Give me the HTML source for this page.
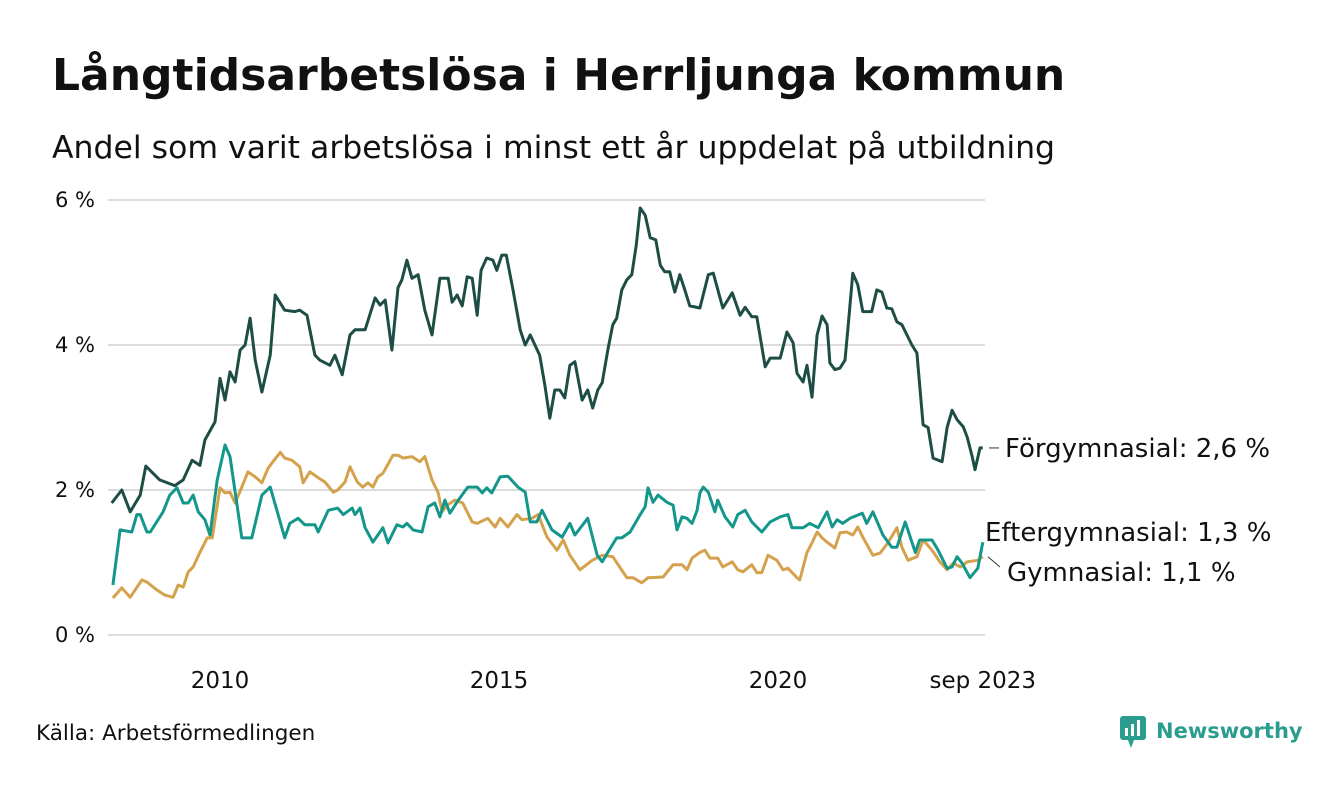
<!DOCTYPE html>
<html><head><meta charset="utf-8">
<style>
body{margin:0;background:#fff;width:1340px;height:780px;overflow:hidden;font-family:"Liberation Sans","DejaVu Sans",sans-serif;}
svg text{font-family:"DejaVu Sans","Liberation Sans",sans-serif;}
</style></head>
<body>
<svg width="1340" height="780" viewBox="0 0 1340 780">
<text x="52" y="90" font-size="44" font-weight="bold" fill="#111">Långtidsarbetslösa i Herrljunga kommun</text>
<text x="52" y="158" font-size="31.5" fill="#111">Andel som varit arbetslösa i minst ett år uppdelat på utbildning</text>
<g id="grid"></g>
<g id="series"></g>
<g id="labels"></g>
<text x="36" y="740" font-size="21.5" fill="#111">Källa: Arbetsförmedlingen</text>
<g>
<rect x="1120" y="716" width="26" height="24" rx="3" fill="#2a9d8f"/>
<polygon points="1128,740 1134,740 1131,748" fill="#2a9d8f"/>
<rect x="1125" y="728" width="3" height="8" fill="#fff"/><rect x="1131" y="724" width="3" height="12" fill="#fff"/><rect x="1137" y="720" width="3" height="16" fill="#fff"/>
<text x="1156" y="738" font-size="21" font-weight="bold" fill="#2a9d8f">Newsworthy</text>
</g>
</svg>
<script>
const yTicks=[0,2,4,6];
const yTickLabels=["0 %","2 %","4 %","6 %"];
const xTicks=[2010,2015,2020,2023.67];
const xTickLabels=["2010","2015","2020","sep 2023"];
const seriesNames=["Förgymnasial","Eftergymnasial","Gymnasial"];
const fgYears=[2008.06,2008.24,2008.39,2008.57,2008.67,2008.92,2009.19,2009.34,2009.5,2009.64,2009.73,2009.91,2010.0,2010.09,2010.18,2010.27,2010.36,2010.45,2010.54,2010.63,2010.75,2010.9,2010.99,2011.16,2011.34,2011.43,2011.56,2011.7,2011.79,2011.97,2012.06,2012.19,2012.33,2012.42,2012.6,2012.78,2012.87,2012.96,2013.08,2013.19,2013.26,2013.35,2013.44,2013.55,2013.67,2013.8,2013.94,2014.09,2014.16,2014.25,2014.34,2014.43,2014.52,2014.61,2014.68,2014.78,2014.89,2014.96,2015.05,2015.13,2015.25,2015.38,2015.47,2015.56,2015.73,2015.82,2015.91,2016.0,2016.09,2016.18,2016.27,2016.36,2016.49,2016.59,2016.68,2016.77,2016.85,2016.95,2017.04,2017.11,2017.2,2017.29,2017.38,2017.46,2017.53,2017.62,2017.71,2017.81,2017.89,2017.97,2018.06,2018.15,2018.24,2018.33,2018.42,2018.6,2018.75,2018.84,2019.01,2019.18,2019.32,2019.41,2019.53,2019.62,2019.77,2019.86,2020.04,2020.16,2020.27,2020.34,2020.45,2020.52,2020.61,2020.7,2020.79,2020.88,2020.93,2021.02,2021.11,2021.2,2021.25,2021.34,2021.43,2021.52,2021.68,2021.77,2021.86,2021.95,2022.04,2022.13,2022.22,2022.31,2022.4,2022.49,2022.6,2022.69,2022.78,2022.94,2023.03,2023.12,2023.21,2023.32,2023.39,2023.48,2023.53,2023.62,2023.67];
const fgValues=[1.82,2.0,1.7,1.93,2.33,2.14,2.06,2.14,2.41,2.34,2.69,2.94,3.54,3.24,3.63,3.49,3.93,4.0,4.37,3.79,3.35,3.86,4.69,4.48,4.46,4.48,4.41,3.86,3.79,3.72,3.86,3.59,4.14,4.21,4.21,4.65,4.55,4.62,3.93,4.79,4.9,5.17,4.92,4.97,4.48,4.14,4.92,4.92,4.59,4.69,4.54,4.94,4.92,4.41,5.03,5.2,5.17,5.03,5.24,5.24,4.76,4.21,4.0,4.14,3.86,3.45,2.99,3.38,3.38,3.27,3.72,3.77,3.24,3.38,3.13,3.38,3.48,3.93,4.28,4.37,4.76,4.9,4.97,5.38,5.89,5.79,5.48,5.45,5.1,5.01,5.01,4.73,4.97,4.76,4.54,4.51,4.97,4.99,4.51,4.72,4.41,4.52,4.39,4.39,3.7,3.82,3.82,4.18,4.03,3.61,3.49,3.72,3.28,4.14,4.4,4.28,3.75,3.66,3.68,3.79,4.21,4.99,4.83,4.46,4.46,4.76,4.73,4.51,4.5,4.32,4.28,4.14,4.0,3.89,2.9,2.86,2.44,2.39,2.86,3.1,2.97,2.87,2.73,2.46,2.28,2.58,2.58];
const egYears=[2008.08,2008.21,2008.42,2008.51,2008.57,2008.69,2008.75,2008.98,2009.1,2009.23,2009.34,2009.43,2009.52,2009.61,2009.73,2009.82,2009.95,2010.09,2010.18,2010.39,2010.57,2010.75,2010.9,2011.02,2011.16,2011.25,2011.4,2011.52,2011.7,2011.76,2011.94,2012.11,2012.21,2012.37,2012.42,2012.51,2012.6,2012.74,2012.92,2013.01,2013.17,2013.28,2013.35,2013.46,2013.62,2013.73,2013.85,2013.94,2014.03,2014.12,2014.27,2014.44,2014.61,2014.7,2014.78,2014.87,2015.02,2015.16,2015.34,2015.47,2015.56,2015.68,2015.77,2015.95,2016.13,2016.27,2016.36,2016.59,2016.76,2016.85,2016.95,2017.11,2017.2,2017.35,2017.53,2017.62,2017.67,2017.76,2017.85,2018.01,2018.12,2018.19,2018.28,2018.37,2018.46,2018.55,2018.6,2018.66,2018.75,2018.87,2018.92,2019.05,2019.19,2019.28,2019.41,2019.53,2019.71,2019.86,2020.04,2020.18,2020.25,2020.45,2020.57,2020.72,2020.88,2020.97,2021.06,2021.16,2021.29,2021.51,2021.59,2021.7,2021.79,2021.88,2022.04,2022.13,2022.28,2022.46,2022.54,2022.76,2022.87,2023.03,2023.12,2023.21,2023.3,2023.44,2023.58,2023.67];
const egValues=[0.69,1.45,1.42,1.66,1.66,1.42,1.42,1.7,1.93,2.03,1.82,1.82,1.93,1.7,1.59,1.38,2.14,2.62,2.46,1.34,1.34,1.93,2.04,1.72,1.34,1.54,1.61,1.52,1.52,1.42,1.72,1.75,1.66,1.75,1.66,1.75,1.48,1.28,1.48,1.27,1.52,1.49,1.54,1.45,1.42,1.77,1.82,1.63,1.86,1.68,1.86,2.04,2.04,1.96,2.03,1.96,2.18,2.19,2.04,1.97,1.56,1.56,1.72,1.45,1.35,1.54,1.38,1.61,1.1,1.01,1.14,1.34,1.34,1.42,1.66,1.77,2.03,1.83,1.93,1.83,1.79,1.45,1.63,1.61,1.54,1.72,1.96,2.04,1.97,1.7,1.86,1.63,1.49,1.66,1.72,1.56,1.42,1.56,1.63,1.66,1.48,1.48,1.54,1.48,1.7,1.49,1.59,1.54,1.61,1.68,1.54,1.7,1.54,1.38,1.21,1.21,1.56,1.14,1.31,1.31,1.17,0.92,0.94,1.08,0.99,0.79,0.92,1.28];
const gyYears=[2008.08,2008.24,2008.39,2008.6,2008.69,2008.87,2009.01,2009.16,2009.25,2009.34,2009.43,2009.52,2009.64,2009.77,2009.86,2010.0,2010.09,2010.18,2010.27,2010.39,2010.5,2010.63,2010.75,2010.86,2010.95,2011.08,2011.16,2011.29,2011.43,2011.49,2011.61,2011.76,2011.88,2012.03,2012.11,2012.24,2012.33,2012.46,2012.56,2012.65,2012.74,2012.83,2012.92,2013.1,2013.19,2013.28,2013.44,2013.58,2013.67,2013.8,2013.91,2013.98,2014.07,2014.21,2014.35,2014.52,2014.61,2014.8,2014.93,2015.02,2015.16,2015.32,2015.41,2015.59,2015.7,2015.86,2016.04,2016.15,2016.27,2016.45,2016.67,2016.85,2017.04,2017.29,2017.4,2017.56,2017.67,2017.94,2018.12,2018.28,2018.37,2018.46,2018.6,2018.69,2018.78,2018.92,2019.01,2019.18,2019.28,2019.37,2019.53,2019.62,2019.71,2019.82,2019.98,2020.09,2020.18,2020.34,2020.39,2020.52,2020.61,2020.7,2020.79,2020.88,2021.02,2021.11,2021.23,2021.34,2021.43,2021.52,2021.7,2021.83,2021.97,2022.13,2022.22,2022.33,2022.49,2022.6,2022.76,2022.9,2023.03,2023.14,2023.27,2023.39,2023.58,2023.67];
const gyValues=[0.51,0.65,0.52,0.76,0.73,0.62,0.55,0.52,0.69,0.66,0.87,0.94,1.14,1.34,1.34,2.03,1.96,1.97,1.82,2.04,2.25,2.18,2.1,2.3,2.39,2.52,2.44,2.41,2.32,2.1,2.25,2.17,2.11,1.97,2.0,2.11,2.32,2.11,2.04,2.1,2.04,2.18,2.23,2.48,2.48,2.44,2.46,2.39,2.46,2.14,1.96,1.7,1.79,1.86,1.82,1.56,1.54,1.61,1.49,1.61,1.49,1.66,1.59,1.61,1.66,1.35,1.17,1.31,1.1,0.9,1.03,1.1,1.08,0.79,0.79,0.72,0.79,0.8,0.97,0.97,0.9,1.06,1.14,1.17,1.06,1.06,0.94,1.01,0.9,0.87,0.97,0.86,0.86,1.1,1.03,0.9,0.92,0.79,0.76,1.14,1.27,1.42,1.34,1.28,1.2,1.41,1.42,1.38,1.49,1.35,1.1,1.13,1.27,1.48,1.21,1.03,1.08,1.31,1.17,1.01,0.9,0.99,0.94,1.01,1.03,1.08];

const NS="http://www.w3.org/2000/svg";
const xS=yr=>220+(yr-2010)*55.8;
const yS=v=>635-v*72.5;
function mk(tag,attrs,parent){const e=document.createElementNS(NS,tag);for(const k in attrs)e.setAttribute(k,attrs[k]);parent.appendChild(e);return e;}
const grid=document.getElementById('grid');
yTicks.forEach((t,i)=>{
  const l=mk('line',{x1:108,x2:985,y1:yS(t),y2:yS(t),stroke:'#dcdcdc','stroke-width':2},grid);
  
  
  const tx=mk('text',{x:95,y:yS(t)+7,'font-size':21,'text-anchor':'end',fill:'#111'},grid);
  tx.textContent=yTickLabels[i];
  
  
});
xTicks.forEach((t,i)=>{
  const tx=mk('text',{x:xS(t),y:688,'font-size':23,'text-anchor':'middle',fill:'#111'},grid);
  tx.textContent=xTickLabels[i];
  
  
});
const ser=document.getElementById('series');
function line(xs,vs,color,name){
  const d=xs.map((x,i)=>(i?'L':'M')+xS(x).toFixed(1)+','+yS(vs[i]).toFixed(1)).join('');
  const p=mk('path',{d:d,fill:'none',stroke:color,'stroke-width':3,'stroke-linejoin':'round'},ser);
  
  
}
line(gyYears,gyValues,'#d4a24c','line-gymnasial');
line(egYears,egValues,'#14978a','line-eftergymnasial');
line(fgYears,fgValues,'#1e4d45','line-forgymnasial');
const lab=document.getElementById('labels');
function fmt(v){return v.toFixed(1).replace('.',',');}
const fgLast=fgValues[fgValues.length-1],egLast=egValues[egValues.length-1],gyLast=gyValues[gyValues.length-1];
mk('line',{x1:989,x2:999,y1:yS(fgLast),y2:yS(fgLast),stroke:'#333','stroke-width':1},lab);
let t1=mk('text',{x:1005,y:yS(fgLast)+9,'font-size':26,fill:'#111'},lab);
t1.textContent=seriesNames[0]+': '+fmt(fgLast)+' %';


let t2=mk('text',{x:985,y:541,'font-size':26,fill:'#111'},lab);
t2.textContent=seriesNames[1]+': '+fmt(egLast)+' %';


mk('line',{x1:988,x2:1000,y1:yS(gyLast),y2:567,stroke:'#333','stroke-width':1},lab);
let t3=mk('text',{x:1007,y:581,'font-size':26,fill:'#111'},lab);
t3.textContent=seriesNames[2]+': '+fmt(gyLast)+' %';


</script>
</body></html>
